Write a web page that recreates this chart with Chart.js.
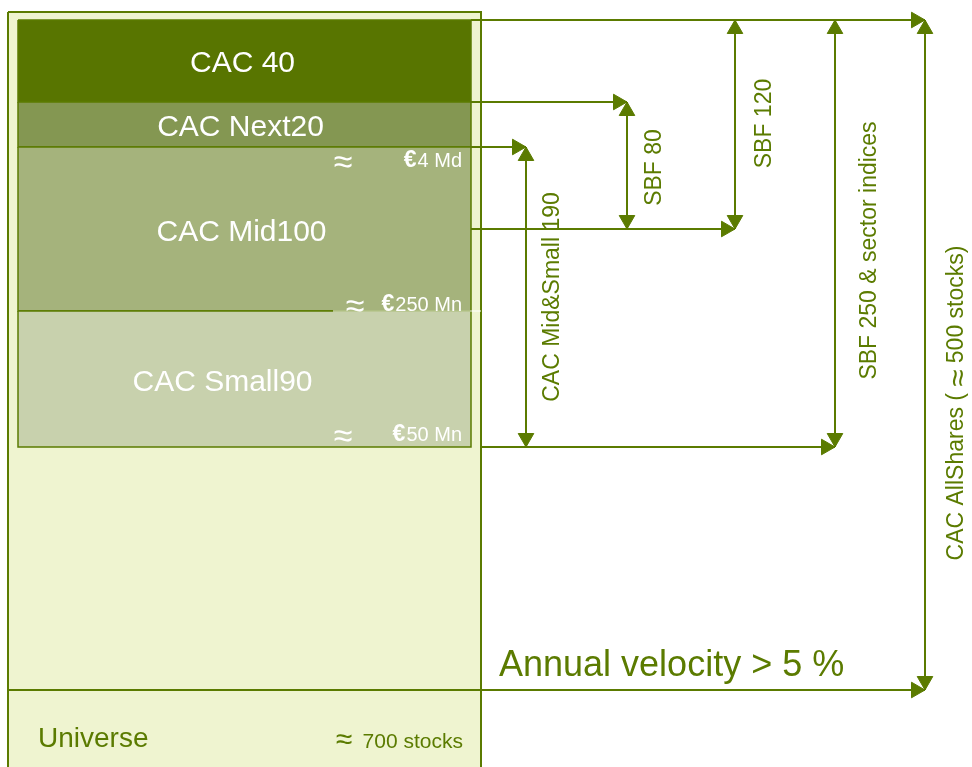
<!DOCTYPE html>
<html>
<head>
<meta charset="utf-8">
<title>Euronext Paris index structure</title>
<script src="https://cdn.jsdelivr.net/npm/chart.js@4.4.1/dist/chart.umd.min.js"></script>
<style>
  html, body { margin: 0; padding: 0; background: #fff; }
  #wrap { width: 972px; height: 767px; position: relative; }
</style>
</head>
<body>
<div id="wrap"><canvas id="chart"></canvas></div>
<script>
// Market tiers, largest caps on top (diagram units, 0 = top of page)
var tierNames = ['CAC 40', 'CAC Next20', 'CAC Mid100', 'CAC Small90'];
var tierTop = [20, 102, 147, 311];
var tierBottom = [102, 147, 311, 447];

// Market-cap thresholds written inside the tiers
var thresholdLabels = ['€4 Md', '€250 Mn', '€50 Mn'];
var thresholdLevels = [147, 311, 447];

// Indices: each one is a bracket running from one level to another
var indexNames = ['CAC Mid&Small 190', 'SBF 80', 'SBF 120', 'SBF 250 & sector indices', 'CAC AllShares ( ≈ 500 stocks)'];
var indexColumn = [526, 627, 735, 835, 925];
var indexFrom = [147, 102, 20, 20, 20];
var indexTo = [447, 229, 229, 447, 690];

var universeLabel = 'Universe';
var universeCount = '700 stocks';
var velocityLabel = 'Annual velocity > 5 %';
var velocityLevel = 690;

// styling / layout
var OLIVE = '#5b7b00';
var tierColors = ['#587500', '#849752', '#a5b37c', '#c8d1ad'];
var outer = { left: 8, right: 481, top: 12, bottom: 780 };
var inner = { left: 18, right: 471 };
var tierLabelDx = [-2, -4, -3, -22];
var tierLabelDy = [3, 3, 4, 4];
var thresholdDy = [14, -6, -12];
var approxX = [343, 355, 343];
var indexLabelDx = [27, 28, 30, 35, 32];
var indexLabelDy = [0, 2, -1, 17, 48];
var ARROW = 9;
var FONT = "'Liberation Sans', Arial, sans-serif";

function box(l, r, t, b) {
  return [{ x: l, y: t }, { x: r, y: t }, { x: r, y: b }, { x: l, y: b }, { x: l, y: t }];
}

function segment(pts, color, width) {
  return { data: pts, borderColor: color || OLIVE, borderWidth: width || 2, fill: false, pointRadius: 0 };
}

var datasets = [];

// outer "universe" box
datasets.push({ data: box(outer.left, outer.right, outer.top, outer.bottom), backgroundColor: '#eff4d0',
  borderColor: OLIVE, borderWidth: 2, fill: 'shape', pointRadius: 0 });

// tiers
tierNames.forEach(function (name, i) {
  datasets.push({ label: name, data: box(inner.left, inner.right, tierTop[i], tierBottom[i]),
    backgroundColor: tierColors[i], borderColor: OLIVE, borderWidth: 1.5, fill: 'shape', pointRadius: 0 });
});
// white rule under the €250 Mn note
datasets.push(segment([{ x: 333, y: 311 }, { x: outer.right, y: 311 }], '#ffffff', 1));

// vertical brackets
var arrowPts = [];
var arrowRot = [];
indexNames.forEach(function (name, i) {
  datasets.push(segment([{ x: indexColumn[i], y: indexFrom[i] }, { x: indexColumn[i], y: indexTo[i] }]));
  arrowPts.push({ x: indexColumn[i], y: indexFrom[i] + ARROW });
  arrowRot.push(0);
  arrowPts.push({ x: indexColumn[i], y: indexTo[i] - ARROW });
  arrowRot.push(180);
});

// horizontal connectors from the tiers to the brackets
var levels = [];
indexFrom.concat(indexTo).forEach(function (v) {
  if (levels.indexOf(v) < 0) levels.push(v);
});
levels.forEach(function (lv) {
  var end = 0;
  indexColumn.forEach(function (c, i) {
    if (indexFrom[i] === lv || indexTo[i] === lv) end = Math.max(end, c);
  });
  var start = inner.right;
  if (lv === velocityLevel) start = outer.left;
  else if (lv === tierBottom[tierBottom.length - 1]) start = outer.right;
  datasets.push(segment([{ x: start, y: lv }, { x: end, y: lv }]));
  arrowPts.push({ x: end - ARROW, y: lv });
  arrowRot.push(90);
});

// arrow heads
datasets.push({ data: arrowPts, showLine: false, pointStyle: 'triangle', pointRadius: ARROW,
  pointRotation: arrowRot, pointBackgroundColor: OLIVE, pointBorderColor: OLIVE, pointBorderWidth: 1 });

// paint in push order
datasets.forEach(function (d, i) { d.order = datasets.length - i; });

// draws text centred on (0,0), with any "≈" set a size larger
function centredText(ctx, text, size) {
  var parts = text.split('≈');
  var big = Math.round(size * 1.35);
  var widths = [];
  var total = 0;
  parts.forEach(function (p, k) {
    ctx.font = size + 'px ' + FONT;
    widths.push(ctx.measureText(p).width);
    total += widths[k];
    if (k < parts.length - 1) {
      ctx.font = big + 'px ' + FONT;
      total += ctx.measureText('≈').width;
    }
  });
  var x = -total / 2;
  ctx.textAlign = 'left';
  parts.forEach(function (p, k) {
    ctx.font = size + 'px ' + FONT;
    ctx.fillText(p, x, 0);
    x += widths[k];
    if (k < parts.length - 1) {
      ctx.font = big + 'px ' + FONT;
      ctx.fillText('≈', x, 2);
      x += ctx.measureText('≈').width;
    }
  });
}

var textPlugin = {
  id: 'diagramText',
  afterDatasetsDraw: function (chart) {
    var ctx = chart.ctx;
    var sx = chart.scales.x;
    var sy = chart.scales.y;
    ctx.save();

    // tier names
    ctx.fillStyle = '#ffffff';
    ctx.textAlign = 'center';
    ctx.textBaseline = 'middle';
    ctx.font = '30px ' + FONT;
    tierNames.forEach(function (name, i) {
      var cx = sx.getPixelForValue((inner.left + inner.right) / 2) + tierLabelDx[i];
      var cy = sy.getPixelForValue((tierTop[i] + tierBottom[i]) / 2) + tierLabelDy[i];
      ctx.fillText(name, cx, cy);
    });

    // thresholds
    thresholdLabels.forEach(function (t, i) {
      var cy = sy.getPixelForValue(thresholdLevels[i] + thresholdDy[i]);
      var right = sx.getPixelForValue(462);
      var rest = t.slice(1);
      ctx.textBaseline = 'middle';
      ctx.textAlign = 'right';
      ctx.font = '20px ' + FONT;
      ctx.fillText(rest, right, cy);
      var w = ctx.measureText(rest).width;
      ctx.font = 'bold 23px ' + FONT;
      ctx.fillText('€', right - w - 1, cy);
      ctx.textAlign = 'center';
      ctx.font = '34px ' + FONT;
      ctx.fillText('≈', sx.getPixelForValue(approxX[i]), cy + 3);
    });

    // index names, rotated
    ctx.fillStyle = OLIVE;
    indexNames.forEach(function (name, i) {
      var px = sx.getPixelForValue(indexColumn[i] + indexLabelDx[i]);
      var py = sy.getPixelForValue((indexFrom[i] + indexTo[i]) / 2 + indexLabelDy[i]);
      ctx.save();
      ctx.translate(px, py);
      ctx.rotate(-Math.PI / 2);
      ctx.textBaseline = 'middle';
      centredText(ctx, name, 23);
      ctx.restore();
    });

    // velocity and universe
    ctx.textBaseline = 'alphabetic';
    ctx.textAlign = 'left';
    ctx.font = '36px ' + FONT;
    ctx.fillText(velocityLabel, sx.getPixelForValue(499), sy.getPixelForValue(velocityLevel - 14));
    ctx.font = '28px ' + FONT;
    ctx.fillText(universeLabel, sx.getPixelForValue(38), sy.getPixelForValue(747));
    ctx.textAlign = 'right';
    ctx.font = '21px ' + FONT;
    ctx.fillText(universeCount, sx.getPixelForValue(463), sy.getPixelForValue(748));
    ctx.textAlign = 'center';
    ctx.font = '30px ' + FONT;
    ctx.fillText('≈', sx.getPixelForValue(344), sy.getPixelForValue(749));
    ctx.restore();
  }
};

var chart = new Chart(document.getElementById('chart').getContext('2d'), {
  type: 'line',
  data: { datasets: datasets },
  options: {
    responsive: true,
    maintainAspectRatio: false,
    animation: false,
    events: [],
    layout: { padding: 0, autoPadding: false },
    elements: { line: { tension: 0, borderJoinStyle: 'miter' }, point: { radius: 0 } },
    plugins: { legend: { display: false }, tooltip: { enabled: false } },
    scales: {
      x: { type: 'linear', min: 0, max: 972, display: false },
      y: { type: 'linear', min: 0, max: 767, reverse: true, display: false }
    }
  },
  plugins: [textPlugin]
});
</script>
</body>
</html>
